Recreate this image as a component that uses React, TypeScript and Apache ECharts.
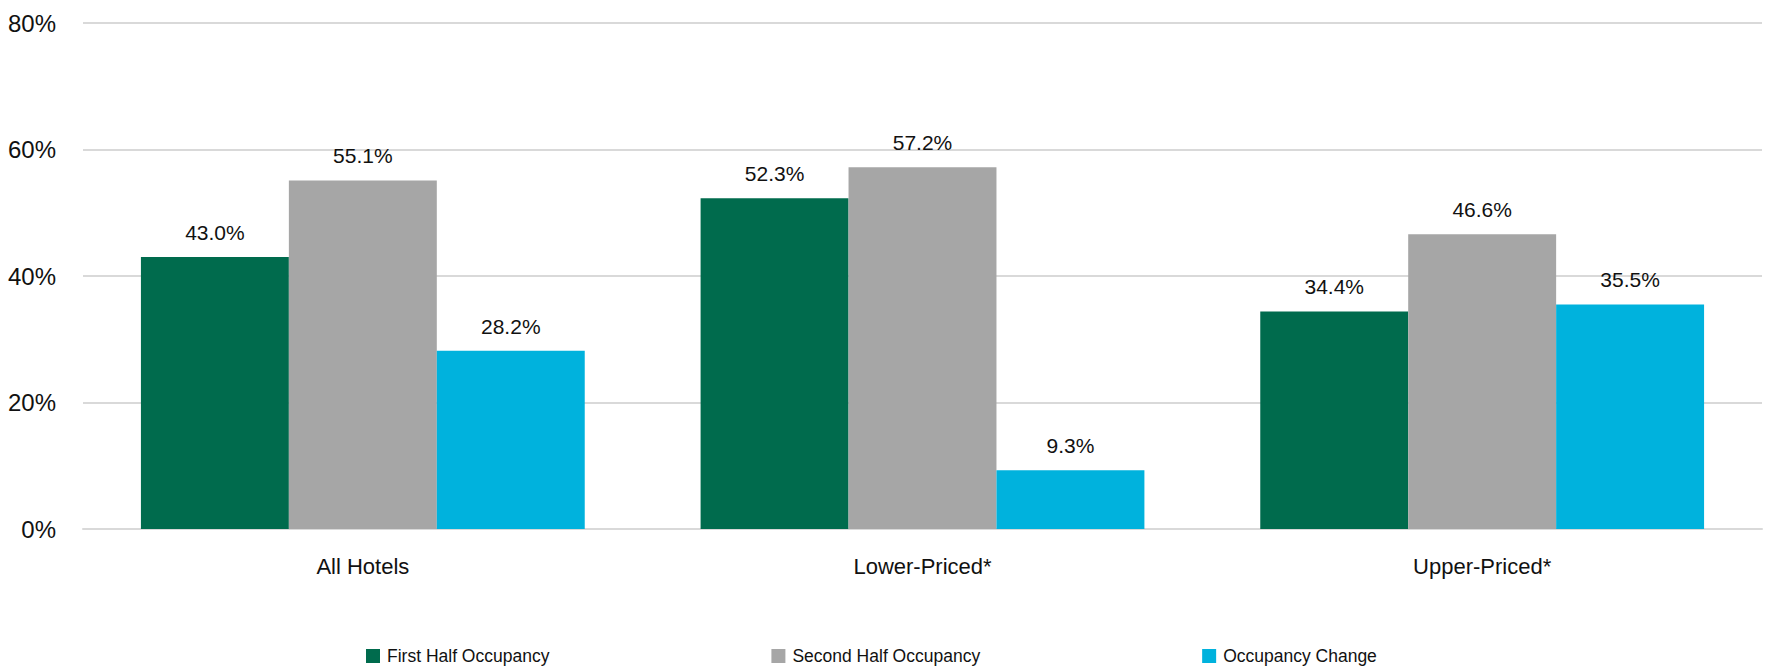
import React, { useEffect, useRef } from "react";
import * as echarts from "echarts";

const categories = ["All Hotels", "Lower-Priced*", "Upper-Priced*"];
const firstHalf = [43.0, 52.3, 34.4];
const secondHalf = [55.1, 57.2, 46.6];
const change = [28.2, 9.3, 35.5];
const seriesNames = ["First Half Occupancy", "Second Half Occupancy", "Occupancy Change"];
const colors = ["#006B4D", "#A6A6A6", "#00B2DD"];

const FONT = "'Liberation Sans Narrow', 'Liberation Sans', sans-serif";

export default function App() {
  const ref = useRef<HTMLDivElement>(null);
  useEffect(() => {
    if (!ref.current) return;
    const chart = echarts.init(ref.current, null, { renderer: "svg" });
    const mk = (name: string, data: number[], color: string) => ({
      name,
      type: "bar",
      data,
      barGap: "0%",
      barCategoryGap: "20.7%",
      itemStyle: { color },
      label: {
        show: true,
        position: "top",
        distance: 14,
        formatter: (p: any) => p.value.toFixed(1) + "%",
        fontFamily: FONT,
        fontSize: 21,
        color: "#111",
      },
    });
    chart.setOption({
      animation: false,
      grid: { left: 83, right: 6, top: 23, bottom: 142, containLabel: false },
      legend: {
        left: 361,
        top: 642,
        itemWidth: 14,
        itemHeight: 14,
        itemGap: 222,
        icon: "rect",
        textStyle: { fontFamily: FONT, fontSize: 17.5, color: "#111", padding: [0, 0, 0, 2] },
        data: seriesNames,
      },
      xAxis: {
        type: "category",
        data: categories,
        axisLine: { show: true, lineStyle: { color: "#D9D9D9", width: 2 } },
        axisTick: { show: false },
        axisLabel: { fontFamily: FONT, fontSize: 22, color: "#111", margin: 26 },
      },
      yAxis: {
        type: "value",
        min: 0,
        max: 80,
        interval: 20,
        axisLine: { show: false },
        axisTick: { show: false },
        splitLine: { lineStyle: { color: "#D9D9D9", width: 2 } },
        axisLabel: {
          formatter: "{value}%",
          fontFamily: FONT,
          fontSize: 24,
          color: "#111",
          margin: 27,
        },
      },
      series: [
        mk(seriesNames[0], firstHalf, colors[0]),
        mk(seriesNames[1], secondHalf, colors[1]),
        mk(seriesNames[2], change, colors[2]),
      ],
    });
    return () => chart.dispose();
  }, []);
  return <div ref={ref} style={{ width: 1768, height: 671, position: "absolute", left: 0, top: 0 }} />;
}
